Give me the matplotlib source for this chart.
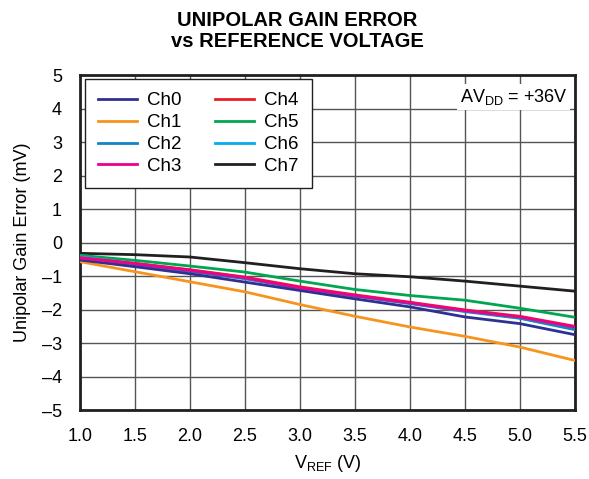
import matplotlib
matplotlib.use("Agg")
import matplotlib.pyplot as plt

vref = [1.0, 1.5, 2.0, 2.5, 3.0, 3.5, 4.0, 4.5, 5.0, 5.5]
ch0 = [-0.52, -0.72, -0.93, -1.18, -1.43, -1.68, -1.92, -2.22, -2.42, -2.75]
ch1 = [-0.57, -0.87, -1.17, -1.47, -1.85, -2.20, -2.52, -2.80, -3.12, -3.52]
ch2 = [-0.47, -0.66, -0.86, -1.08, -1.37, -1.60, -1.82, -2.06, -2.26, -2.60]
ch3 = [-0.46, -0.63, -0.83, -1.05, -1.35, -1.58, -1.80, -2.03, -2.22, -2.52]
ch4 = [-0.45, -0.62, -0.81, -1.03, -1.32, -1.56, -1.78, -2.01, -2.20, -2.50]
ch5 = [-0.38, -0.53, -0.70, -0.88, -1.15, -1.40, -1.58, -1.72, -1.96, -2.23]
ch6 = [-0.42, -0.62, -0.82, -1.04, -1.36, -1.59, -1.81, -2.04, -2.25, -2.58]
ch7 = [-0.32, -0.36, -0.43, -0.60, -0.78, -0.93, -1.02, -1.15, -1.30, -1.45]

series = [
    ("Ch0", ch0, "#2e3192"),
    ("Ch1", ch1, "#f7941d"),
    ("Ch2", ch2, "#0f86c8"),
    ("Ch3", ch3, "#ec008c"),
    ("Ch4", ch4, "#ed1c24"),
    ("Ch5", ch5, "#00a651"),
    ("Ch6", ch6, "#00aeef"),
    ("Ch7", ch7, "#231f20"),
]
draw_order = ["Ch7", "Ch1", "Ch5", "Ch6", "Ch2", "Ch0", "Ch4", "Ch3"]

xticks = [1.0, 1.5, 2.0, 2.5, 3.0, 3.5, 4.0, 4.5, 5.0, 5.5]
yticks = [-5, -4, -3, -2, -1, 0, 1, 2, 3, 4, 5]

plt.rcParams['font.family'] = ['Liberation Sans', 'DejaVu Sans']

fig = plt.figure(figsize=(5.89, 4.79), dpi=100)
ax = fig.add_axes([0.136, 0.144, 0.840, 0.699])

handles = {}
for name, vals, col in series:
    z = 3 + draw_order.index(name)
    h, = ax.plot(vref, vals, color=col, lw=2.0, label=name, zorder=z)
    handles[name] = h

ax.set_xlim(1.0, 5.5)
ax.set_ylim(-5, 5)
ax.set_xticks(xticks)
ax.set_xticklabels([f"{v:.1f}" for v in xticks])
ax.set_yticks(yticks)
ax.set_yticklabels([("\u2013" + str(abs(v))) if v < 0 else str(v) for v in yticks])
ax.tick_params(axis="x", length=0, labelsize=13, pad=13)
ax.tick_params(axis="y", length=0, labelsize=13, pad=13)
ax.grid(True, color="#555555", lw=1.0)
ax.set_axisbelow(True)
for s in ax.spines.values():
    s.set_linewidth(2.0)
    s.set_color("#231f20")

ax.set_xlabel("V$_{\\mathregular{REF}}$ (V)", fontsize=13, labelpad=6)
ax.set_ylabel("Unipolar Gain Error (mV)", fontsize=13, labelpad=8)

fig.text(0.505, 0.978, "UNIPOLAR GAIN ERROR\nvs REFERENCE VOLTAGE",
         ha="center", va="top", fontsize=14.5, fontweight="bold", linespacing=1.15)

leg = ax.legend([handles[n] for n, _, _ in series], [n for n, _, _ in series],
                ncol=2, loc="upper left", bbox_to_anchor=(0.01, 0.988),
                fontsize=13.5, frameon=True, fancybox=False, edgecolor="#231f20",
                framealpha=1, handlelength=2.05, handletextpad=0.55,
                columnspacing=1.8, labelspacing=0.25, borderpad=0.7,
                borderaxespad=0.0)
leg.get_frame().set_linewidth(1.0)

ax.text(0.985, 0.965, "AV$_{\\mathregular{DD}}$ = +36V", transform=ax.transAxes,
        ha="right", va="top", fontsize=13,
        bbox=dict(facecolor="white", edgecolor="none", pad=2))

fig.savefig("out.png", dpi=100)
